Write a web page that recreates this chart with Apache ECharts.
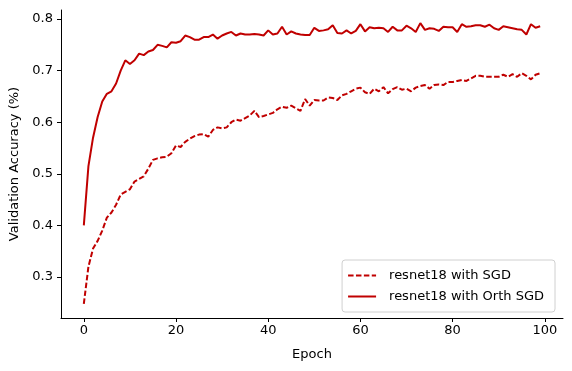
<!DOCTYPE html>
<html>
<head>
<meta charset="utf-8">
<script src="https://cdn.jsdelivr.net/npm/echarts@6/dist/echarts.min.js"></script>
<style>
  html, body { margin: 0; padding: 0; background: #fff; }
  #chart { width: 572px; height: 371px; }
</style>
</head>
<body>
<div id="chart"></div>
<script>
// data, one value per epoch 0..99
var sgdAcc = [
  0.248, 0.320, 0.355, 0.370, 0.390, 0.415, 0.425, 0.440, 0.460, 0.465,
  0.470, 0.485, 0.490, 0.495, 0.510, 0.527, 0.530, 0.532, 0.533, 0.540,
  0.555, 0.552, 0.562, 0.568, 0.573, 0.576, 0.577, 0.572, 0.585, 0.590,
  0.588, 0.590, 0.600, 0.605, 0.603, 0.608, 0.613, 0.622, 0.610, 0.612,
  0.615, 0.618, 0.625, 0.630, 0.628, 0.632, 0.627, 0.622, 0.645, 0.632,
  0.643, 0.642, 0.642, 0.648, 0.647, 0.643, 0.652, 0.655, 0.660, 0.665,
  0.667, 0.658, 0.655, 0.665, 0.660, 0.668, 0.656, 0.664, 0.668, 0.663,
  0.665, 0.660, 0.667, 0.670, 0.672, 0.665, 0.672, 0.673, 0.672, 0.678,
  0.678, 0.680, 0.682, 0.680, 0.685, 0.690, 0.690, 0.688, 0.688, 0.688,
  0.688, 0.692, 0.688, 0.693, 0.688, 0.695, 0.690, 0.683, 0.692, 0.695
];
var orthAcc = [
  0.400, 0.515, 0.570, 0.610, 0.640, 0.655, 0.660, 0.675, 0.700, 0.720,
  0.713, 0.720, 0.733, 0.730, 0.737, 0.740, 0.750, 0.748, 0.745, 0.755,
  0.754, 0.757, 0.768, 0.765, 0.760, 0.760, 0.765, 0.765, 0.770, 0.762,
  0.768, 0.772, 0.775, 0.768, 0.772, 0.770, 0.770, 0.771, 0.770, 0.768,
  0.778, 0.770, 0.772, 0.785, 0.770, 0.776, 0.772, 0.770, 0.769, 0.769,
  0.783, 0.777, 0.778, 0.780, 0.788, 0.773, 0.772, 0.778, 0.772, 0.777,
  0.790, 0.776, 0.784, 0.782, 0.783, 0.782, 0.775, 0.785, 0.778, 0.778,
  0.787, 0.782, 0.775, 0.792, 0.779, 0.782, 0.781, 0.777, 0.785, 0.784,
  0.784, 0.775, 0.790, 0.785, 0.786, 0.788, 0.788, 0.785, 0.789, 0.782,
  0.779, 0.786, 0.784, 0.782, 0.780, 0.779, 0.770, 0.790, 0.783, 0.786
];
var xTicks = [0, 20, 40, 60, 80, 100];
var yTicks = [0.3, 0.4, 0.5, 0.6, 0.7, 0.8];
var seriesNames = ['resnet18 with SGD', 'resnet18 with Orth SGD'];

function pairs(arr) {
  return arr.map(function (v, i) { return [i, v]; });
}

var red = '#c00000';
var font = 'DejaVu Sans';

var chart = echarts.init(document.getElementById('chart'));
var option = {
  animation: false,
  backgroundColor: '#fff',
  textStyle: { fontFamily: font },
  grid: { left: 61, right: 9, top: 10, bottom: 53, containLabel: false },
  xAxis: {
    type: 'value',
    min: -4.95,
    max: 103.95,
    name: 'Epoch',
    nameLocation: 'middle',
    nameGap: 30,
    nameTextStyle: { color: '#000', fontSize: 13, fontFamily: font },
    axisLine: { show: true, onZero: false, lineStyle: { color: '#000', width: 1 } },
    axisTick: { show: true, length: 4, customValues: xTicks, lineStyle: { color: '#000' } },
    axisLabel: { customValues: xTicks, color: '#000', fontSize: 13, margin: 6, fontFamily: font },
    splitLine: { show: false }
  },
  yAxis: {
    type: 'value',
    min: 0.2205,
    max: 0.8175,
    name: 'Validation Accuracy (%)',
    nameLocation: 'middle',
    nameGap: 36,
    nameRotate: 90,
    nameTextStyle: { color: '#000', fontSize: 13, fontFamily: font },
    axisLine: { show: true, onZero: false, lineStyle: { color: '#000', width: 1 } },
    axisTick: { show: true, length: 4, customValues: yTicks, lineStyle: { color: '#000' } },
    axisLabel: {
      customValues: yTicks, color: '#000', fontSize: 13, margin: 8, fontFamily: font,
      formatter: function (v) { return v.toFixed(1); }
    },
    splitLine: { show: false }
  },
  legend: {
    orient: 'vertical',
    right: 17,
    bottom: 59,
    data: seriesNames,
    itemWidth: 28,
    itemHeight: 4,
    itemGap: 8,
    padding: [9, 11, 9, 5],
    borderColor: '#d0d0d0',
    borderWidth: 1,
    borderRadius: 3,
    backgroundColor: '#fff',
    itemStyle: { opacity: 0 },
    textStyle: { color: '#000', fontSize: 13, fontFamily: font, padding: [0, 0, 0, 8] }
  },
  series: [
    {
      name: seriesNames[0],
      type: 'line',
      data: pairs(sgdAcc),
      showSymbol: false,
      symbol: 'none',
      color: red,
      lineStyle: { color: red, width: 2, type: [5.5, 2.4] }
    },
    {
      name: seriesNames[1],
      type: 'line',
      data: pairs(orthAcc),
      showSymbol: false,
      symbol: 'none',
      color: red,
      lineStyle: { color: red, width: 2, type: 'solid' }
    }
  ]
};
chart.setOption(option);
</script>
</body>
</html>
